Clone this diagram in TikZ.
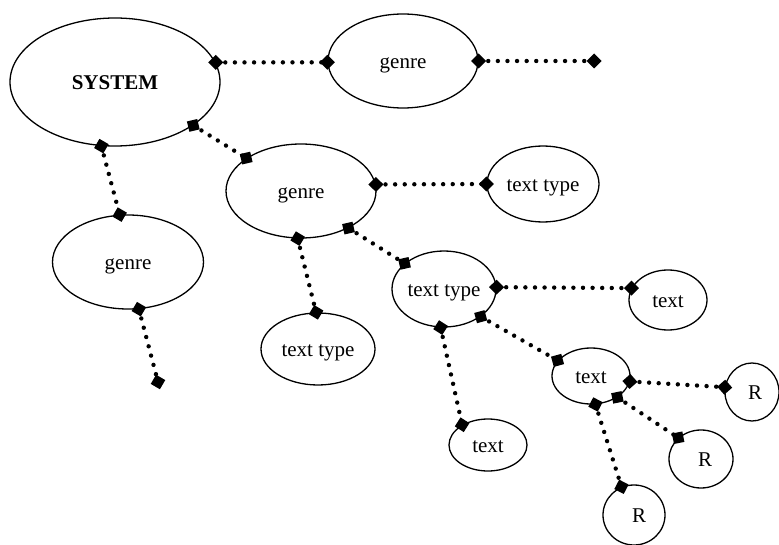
\documentclass[tikz,border=0pt]{standalone}
\usepackage{fontspec}
\setmainfont{Liberation Serif}
\usetikzlibrary{shapes.geometric,decorations.markings}

\tikzset{
  bubble/.style={ellipse, draw, line width=1.3pt, inner sep=0pt,
    text height=18pt, text depth=3pt,
    font=\fontsize{21}{24}\selectfont},
  link/.style={line width=4.4pt, line cap=round, dash pattern=on 0pt off 9.6pt,
    postaction={decorate, decoration={markings,
      mark=at position 0 with {\fill[solid] (-7.5pt,0)--(0,7.5pt)--(7.5pt,0)--(0,-7.5pt)--cycle;},
      mark=at position 1 with {\fill[solid] (-7.5pt,0)--(0,7.5pt)--(7.5pt,0)--(0,-7.5pt)--cycle;}}}},
}

\begin{document}
\begin{tikzpicture}[x=1pt,y=-1pt]
\useasboundingbox (0,0) rectangle (779,545);

% classification nodes
\node[bubble, minimum width=210pt, minimum height=128pt] (sys) at (115,82) {\bfseries SYSTEM};
\node[bubble, minimum width=150pt, minimum height=94pt] (g1) at (403,61) {genre};
\node[bubble, minimum width=150pt, minimum height=94pt] (g2) at (301,191) {genre};
\node[bubble, minimum width=151pt, minimum height=94pt] (g3) at (128,262) {genre};
\node[bubble, minimum width=112pt, minimum height=76pt] (tt1) at (543,184) {text type};
\node[bubble, minimum width=114pt, minimum height=72pt] (tt2) at (318,349) {text type};
\node[bubble, minimum width=104pt, minimum height=76pt] (tt3) at (444,289) {text type};
\node[bubble, minimum width=78pt, minimum height=60pt] (t1) at (668,300) {text};
\node[bubble, minimum width=78pt, minimum height=52pt] (t2) at (488,445) {text};
\node[bubble, minimum width=78pt, minimum height=56pt] (t3) at (591,376) {text};
\node[bubble, minimum width=54pt, minimum height=58pt] (r1) at (752,392) {\hspace*{6pt}R};
\node[bubble, minimum width=64pt, minimum height=58pt] (r2) at (701,459) {\hspace*{8pt}R};
\node[bubble, minimum width=62pt, minimum height=60pt] (r3) at (634,515) {\hspace*{10pt}R};

% open ends
\coordinate (e1) at (594,61);
\coordinate (e2) at (158,382);

% dotted links
\draw[link] (sys.11.5) -- (g1.181);
\draw[link] (g1.0) -- (e1);
\draw[link] (sys.331) -- (g2.149);
\draw[link] (sys.258) -- (g3.100);
\draw[link] (g3.283) -- (e2);
\draw[link] (g2.5) -- (tt1.180);
\draw[link] (g2.266) -- (tt2.93);
\draw[link] (g2.322) -- (tt3.147);
\draw[link] (tt3.2) -- (t1.162);
\draw[link] (tt3.265) -- (t2.142);
\draw[link] (tt3.323) -- (t3.155);
\draw[link] (t3.352.5) -- (r1.170);
\draw[link] (t3.321) -- (r2.137);
\draw[link] (t3.279) -- (r3.114);
\end{tikzpicture}
\end{document}
